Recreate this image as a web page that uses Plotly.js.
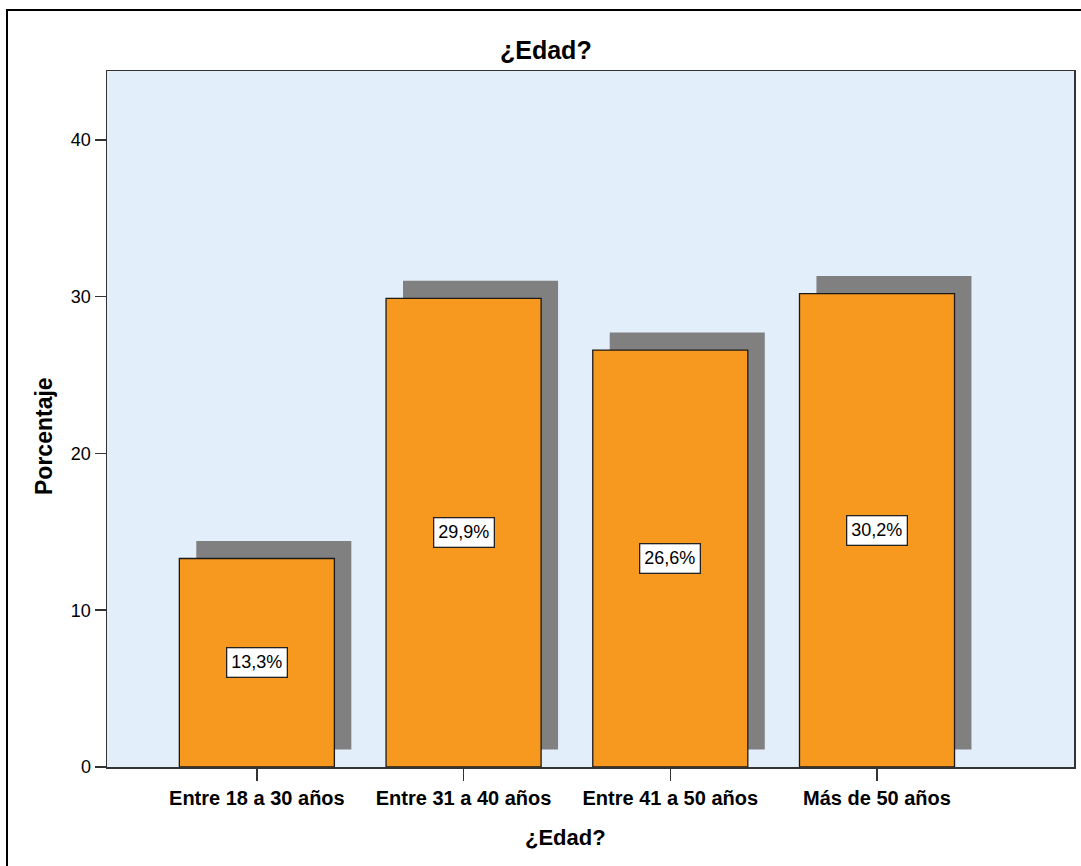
<!DOCTYPE html>
<html>
<head>
<meta charset="utf-8">
<script src="https://cdn.plot.ly/plotly-3.0.1.min.js"></script>
<style>
  html, body { margin: 0; padding: 0; background: #ffffff; }
  #chart { width: 1081px; height: 866px; }
</style>
</head>
<body>
<div id="chart"></div>
<script>
// ---- data ----
const categories = ["Entre 18 a 30 años", "Entre 31 a 40 años", "Entre 41 a 50 años", "Más de 50 años"];
const percentages = [13.3, 29.9, 26.6, 30.2];
const yTicks = [0, 10, 20, 30, 40];
const chartTitle = "¿Edad?";
const xTitle = "¿Edad?";
const yTitle = "Porcentaje";

// ---- layout helpers (pixel -> paper) ----
const L = 107, R = 1074, T = 71, B = 767;
const xp = px => (px - L) / (R - L);
const yp = py => (B - py) / (B - T);

const barWidth = 0.75;
const shadowShift = 0.082;
const shadowBase = 1.12;

const labels = percentages.map(v => v.toFixed(1).replace('.', ',') + '%');

const shadow = {
  type: 'bar',
  x: categories,
  y: percentages,
  base: percentages.map(() => shadowBase),
  width: barWidth,
  offset: -barWidth / 2 + shadowShift,
  marker: { color: '#808080', line: { width: 0 } },
  hoverinfo: 'skip',
  showlegend: false
};

const bars = {
  type: 'bar',
  x: categories,
  y: percentages,
  width: barWidth,
  offset: -barWidth / 2,
  marker: { color: '#F8991F', line: { color: '#1a1a1a', width: 1.3 } },
  showlegend: false
};

const annotations = categories.map((c, i) => ({
  x: c, y: percentages[i] / 2, xref: 'x', yref: 'y',
  text: labels[i], showarrow: false,
  font: { family: 'Liberation Sans, Arial, sans-serif', size: 18, color: '#000' },
  bgcolor: '#ffffff', bordercolor: '#222', borderwidth: 1.3, borderpad: 4
}));

annotations.push({
  x: xp(546), y: yp(50), xref: 'paper', yref: 'paper', showarrow: false,
  text: '<b>' + chartTitle + '</b>',
  font: { family: 'Liberation Sans, Arial, sans-serif', size: 25, color: '#000' },
  xanchor: 'center', yanchor: 'middle'
});
annotations.push({
  x: xp(565), y: yp(837), xref: 'paper', yref: 'paper', showarrow: false,
  text: '<b>' + xTitle + '</b>',
  font: { family: 'Liberation Sans, Arial, sans-serif', size: 22, color: '#000' },
  xanchor: 'center', yanchor: 'middle'
});
annotations.push({
  x: xp(44), y: yp(436), xref: 'paper', yref: 'paper', showarrow: false,
  text: '<b>' + yTitle + '</b>', textangle: -90,
  font: { family: 'Liberation Sans, Arial, sans-serif', size: 23, color: '#000' },
  xanchor: 'center', yanchor: 'middle'
});

const layout = {
  width: 1081, height: 866,
  margin: { l: L, r: 1081 - R, t: T, b: 866 - B, pad: 0 },
  paper_bgcolor: '#ffffff',
  plot_bgcolor: '#E2EEFA',
  barmode: 'overlay',
  font: { family: 'Liberation Sans, Arial, sans-serif', color: '#000' },
  xaxis: {
    type: 'category',
    range: [-0.725, 3.953],
    showgrid: false, zeroline: false,
    showline: true, linecolor: '#333', linewidth: 1.5, mirror: true,
    ticks: 'outside', ticklen: 12, tickcolor: '#333', tickwidth: 1.5,
    tickfont: { family: 'Liberation Sans, Arial, sans-serif', size: 20, color: '#000', weight: 'bold' },
    fixedrange: true
  },
  yaxis: {
    range: [0, 44.4],
    tickvals: yTicks,
    ticktext: yTicks.map(String),
    showgrid: false, zeroline: false,
    showline: true, linecolor: '#333', linewidth: 1.5, mirror: true,
    ticks: 'outside', ticklen: 11, tickcolor: '#333', tickwidth: 1.5,
    tickfont: { family: 'Liberation Sans, Arial, sans-serif', size: 18, color: '#000' },
    fixedrange: true
  },
  shapes: [{
    type: 'rect', xref: 'paper', yref: 'paper', layer: 'above',
    x0: xp(7), x1: xp(1120), y0: yp(920), y1: yp(10),
    line: { color: '#000', width: 2 }, fillcolor: 'rgba(0,0,0,0)'
  }],
  annotations: annotations
};

Plotly.newPlot('chart', [shadow, bars], layout, { displayModeBar: false, staticPlot: true });
</script>
</body>
</html>
